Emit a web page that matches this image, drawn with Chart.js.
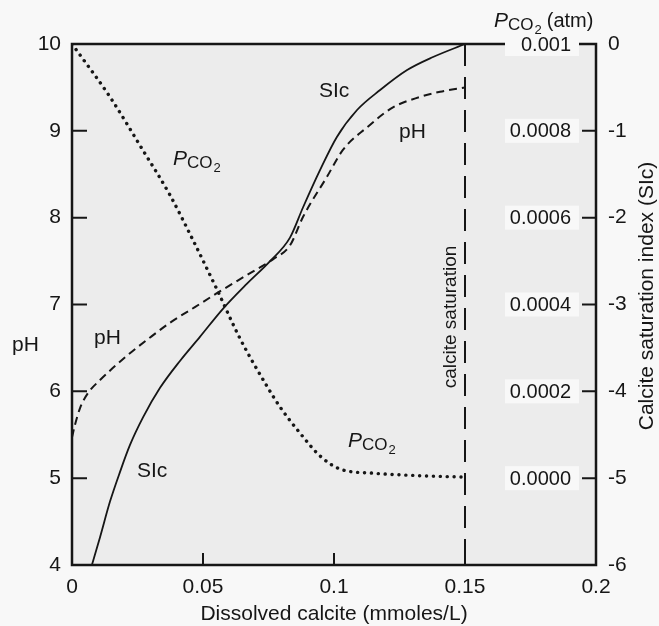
<!DOCTYPE html>
<html lang="en">
<head>
  <meta charset="UTF-8">
  <title>Calcite dissolution</title>
  <script src="https://cdn.jsdelivr.net/npm/chart.js"></script>
  <style>
    body { margin: 0; background: #f8f8f8; }
    #wrap { width: 659px; height: 626px; }
  </style>
</head>
<body>
  <div id="wrap"><canvas id="calciteChart" width="659" height="626"></canvas></div>

  <script>
    // saturation index curve (right axis)
    const siCalcite = [0.0076, 0.0107, 0.0145, 0.0183, 0.0221, 0.0271, 0.0336, 0.0412, 0.0489, 0.0576, 0.0668, 0.0756, 0.0832, 0.0882, 0.0947, 0.1011, 0.1088, 0.1176, 0.1279, 0.1378, 0.15];
    const siValues = [-6.0, -5.68, -5.27, -4.93, -4.62, -4.30, -3.96, -3.65, -3.37, -3.05, -2.76, -2.50, -2.23, -1.88, -1.45, -1.07, -0.76, -0.53, -0.30, -0.15, 0];

    // pH curve (left axis)
    const phCalcite = [0, 0.0011, 0.0031, 0.0061, 0.0107, 0.0210, 0.0298, 0.0374, 0.0469, 0.0553, 0.0668, 0.0767, 0.0832, 0.0882, 0.0973, 0.1034, 0.1126, 0.1225, 0.1328, 0.1405, 0.15];
    const phValues = [5.47, 5.61, 5.81, 5.98, 6.13, 6.41, 6.62, 6.79, 6.97, 7.13, 7.34, 7.52, 7.68, 8.01, 8.47, 8.78, 9.04, 9.27, 9.39, 9.45, 9.50];

    // PCO2 curve (inner right axis, atm)
    const pco2Calcite = [0, 0.0023, 0.0145, 0.0271, 0.0374, 0.0462, 0.0553, 0.0641, 0.0744, 0.0794, 0.0870, 0.0947, 0.1023, 0.1149, 0.1279, 0.15];
    const pco2Values = [0.001, 0.000981, 0.000878, 0.000755, 0.000652, 0.000548, 0.000435, 0.000322, 0.000212, 0.000164, 0.000104, 0.000051, 0.000021, 0.0000115, 0.0000069, 0.0000023];

    // calcite saturation marker
    const satCalcite = [0.15, 0.15];
    const satPh = [10, 4];

    const xTickLabels = ['0', '0.05', '0.1', '0.15', '0.2'];
    const pco2Ticks = [0, 0.0002, 0.0004, 0.0006, 0.0008, 0.001];
    const pco2TickLabels = ['0.0000', '0.0002', '0.0004', '0.0006', '0.0008', '0.001'];

    const FONT = "'Liberation Sans', Arial, sans-serif";
    const INK = '#161616';

    function pairs(xs, ys) {
      return xs.map((x, i) => ({ x: x, y: ys[i] }));
    }

    function drawPco2(ctx, x, y, size) {
      ctx.textAlign = 'left';
      ctx.textBaseline = 'alphabetic';
      ctx.font = `italic ${size}px ${FONT}`;
      ctx.fillText('P', x, y);
      let w = ctx.measureText('P').width;
      ctx.font = `${Math.round(size * 0.8)}px ${FONT}`;
      ctx.fillText('CO', x + w, y + 3);
      w += ctx.measureText('CO').width;
      ctx.font = `${Math.round(size * 0.62)}px ${FONT}`;
      ctx.fillText('2', x + w + 1, y + 7);
      return w + 1 + ctx.measureText('2').width;
    }

    const framePlugin = {
      id: 'frame',
      beforeDraw(chart) {
        const { ctx, chartArea: a } = chart;
        ctx.save();
        ctx.fillStyle = '#f8f8f8';
        ctx.fillRect(0, 0, chart.width, chart.height);
        ctx.fillStyle = '#ececec';
        ctx.fillRect(a.left, a.top, a.right - a.left, a.bottom - a.top);
        ctx.restore();
      },
      afterDraw(chart) {
        const { ctx, chartArea: a, scales } = chart;
        ctx.save();
        ctx.strokeStyle = INK;
        ctx.fillStyle = INK;

        // box
        ctx.lineWidth = 2.5;
        ctx.strokeRect(a.left, a.top, a.right - a.left, a.bottom - a.top);

        // inward ticks
        ctx.lineWidth = 2;
        ctx.beginPath();
        [5, 6, 7, 8, 9].forEach(v => {
          const y = scales.y.getPixelForValue(v);
          ctx.moveTo(a.left, y);
          ctx.lineTo(a.left + 15, y);
        });
        [-1, -2, -3, -4, -5].forEach(v => {
          const y = scales.ySI.getPixelForValue(v);
          ctx.moveTo(a.right, y);
          ctx.lineTo(a.right - 14, y);
        });
        [0.05, 0.1, 0.15].forEach(v => {
          const x = scales.x.getPixelForValue(v);
          ctx.moveTo(x, a.bottom);
          ctx.lineTo(x, a.bottom - 12);
        });
        ctx.stroke();

        // PCO2 tick labels, inside the right axis
        ctx.font = `20px ${FONT}`;
        ctx.textAlign = 'right';
        ctx.textBaseline = 'middle';
        pco2Ticks.forEach((v, i) => {
          const y = scales.yP.getPixelForValue(v);
          ctx.fillStyle = '#f8f8f8';
          ctx.fillRect(a.right - 91, y - 12, 74, 24);
          ctx.fillStyle = INK;
          ctx.fillText(pco2TickLabels[i], a.right - 25, y + 1);
        });

        // curve labels
        ctx.font = `21px ${FONT}`;
        ctx.textAlign = 'left';
        ctx.textBaseline = 'alphabetic';
        ctx.fillText('SIc', 319, 97);
        ctx.fillText('pH', 399, 138);
        ctx.fillText('pH', 94, 344);
        ctx.fillText('SIc', 137, 477);
        drawPco2(ctx, 173, 165, 21);
        drawPco2(ctx, 348, 447, 21);

        // top right axis caption
        const w = drawPco2(ctx, 494, 27, 21);
        ctx.font = `20px ${FONT}`;
        ctx.fillText('(atm)', 494 + w + 5, 27);

        // axis titles
        ctx.font = `21px ${FONT}`;
        ctx.fillText('pH', 12, 351);
        ctx.textAlign = 'center';
        ctx.fillText('Dissolved calcite (mmoles/L)', 334, 620);

        ctx.save();
        ctx.translate(647, 296);
        ctx.rotate(-Math.PI / 2);
        ctx.textBaseline = 'middle';
        ctx.fillText('Calcite saturation index (SIc)', 0, 0);
        ctx.restore();

        ctx.save();
        ctx.translate(451, 317);
        ctx.rotate(-Math.PI / 2);
        ctx.font = `19px ${FONT}`;
        ctx.textBaseline = 'middle';
        ctx.fillText('calcite saturation', 0, 0);
        ctx.restore();

        ctx.restore();
      }
    };

    const tickFont = { family: FONT, size: 21 };

    new Chart(document.getElementById('calciteChart'), {
      type: 'line',
      data: {
        datasets: [
          {
            label: 'SIc',
            data: pairs(siCalcite, siValues),
            yAxisID: 'ySI',
            borderColor: INK,
            borderWidth: 1.8,
            pointRadius: 0,
            cubicInterpolationMode: 'monotone',
            fill: false
          },
          {
            label: 'pH',
            data: pairs(phCalcite, phValues),
            yAxisID: 'y',
            borderColor: INK,
            borderWidth: 2,
            borderDash: [8, 5],
            pointRadius: 0,
            cubicInterpolationMode: 'monotone',
            fill: false
          },
          {
            label: 'PCO2',
            data: pairs(pco2Calcite, pco2Values),
            yAxisID: 'yP',
            borderColor: INK,
            borderWidth: 3.4,
            borderDash: [0.1, 6.8],
            borderCapStyle: 'round',
            pointRadius: 0,
            cubicInterpolationMode: 'monotone',
            fill: false
          },
          {
            label: 'calcite saturation',
            data: pairs(satCalcite, satPh),
            yAxisID: 'y',
            borderColor: INK,
            borderWidth: 2,
            borderDash: [22, 11],
            pointRadius: 0,
            tension: 0,
            fill: false
          }
        ]
      },
      options: {
        responsive: false,
        animation: false,
        layout: { padding: { top: 44, left: 0, right: 0, bottom: 0 } },
        plugins: {
          legend: { display: false },
          tooltip: { enabled: false }
        },
        scales: {
          x: {
            type: 'linear',
            min: 0,
            max: 0.2,
            position: 'bottom',
            afterFit: s => { s.height = 61; },
            grid: { display: false, drawTicks: false },
            border: { display: false },
            ticks: {
              stepSize: 0.05,
              padding: 10,
              color: INK,
              font: tickFont,
              maxRotation: 0,
              autoSkip: false,
              callback: (v, i) => xTickLabels[i]
            }
          },
          y: {
            min: 4,
            max: 10,
            position: 'left',
            afterFit: s => { s.width = 72; },
            grid: { display: false, drawTicks: false },
            border: { display: false },
            ticks: { stepSize: 1, padding: 11, color: INK, font: tickFont }
          },
          ySI: {
            min: -6,
            max: 0,
            position: 'right',
            afterFit: s => { s.width = 63; },
            grid: { display: false, drawTicks: false },
            border: { display: false },
            ticks: { stepSize: 1, padding: 12, color: INK, font: tickFont }
          },
          yP: {
            display: false,
            min: -0.0002,
            max: 0.001,
            position: 'right'
          }
        }
      },
      plugins: [framePlugin]
    });
  </script>
</body>
</html>
